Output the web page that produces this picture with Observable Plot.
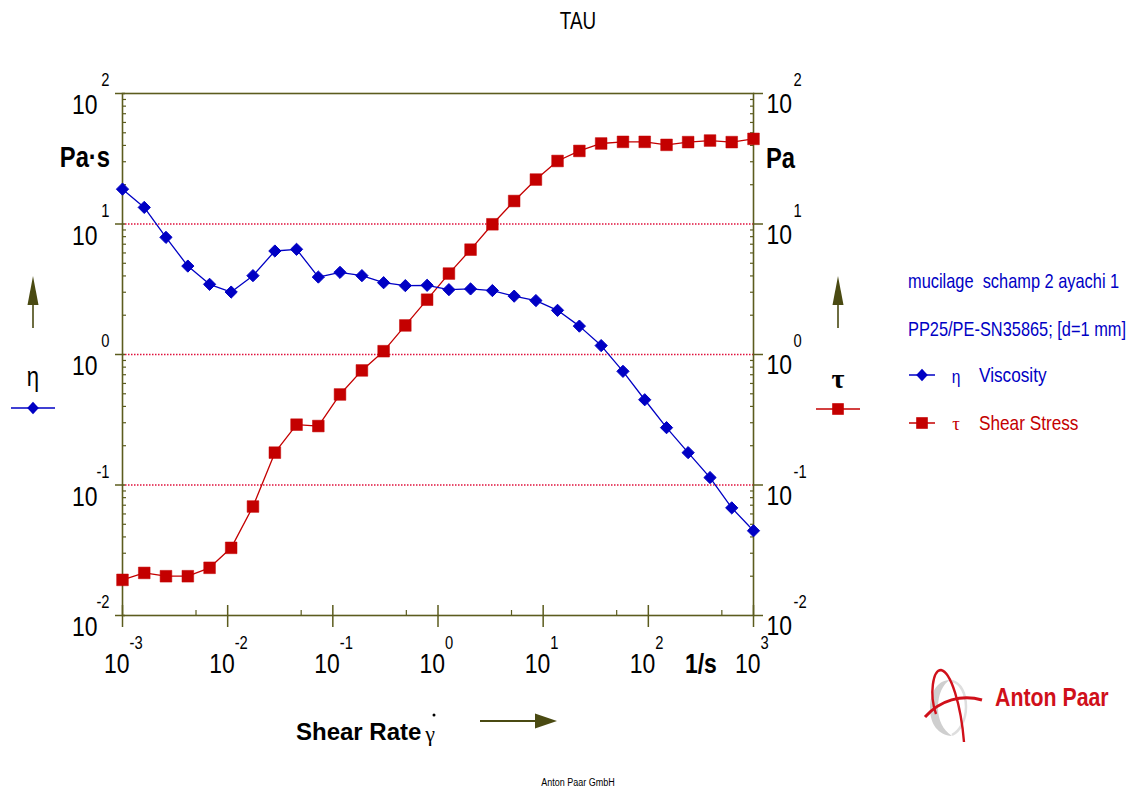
<!DOCTYPE html>
<html><head><meta charset="utf-8">
<script src="https://cdn.jsdelivr.net/npm/d3@7"></script>
<script src="https://cdn.jsdelivr.net/npm/@observablehq/plot@0.6"></script>
<style>
html,body{margin:0;padding:0;background:#fff;}
#wrap{position:relative;width:1132px;height:789px;overflow:hidden;background:#fff;}
#wrap svg{position:absolute;left:0;top:0;}
</style></head><body><div id="wrap"></div>
<script>
// ---- data ----
const shearRate = [0.001, 0.00161, 0.00259, 0.00418, 0.00673, 0.0108, 0.0174, 0.0281, 0.0452, 0.0728,
  0.117, 0.189, 0.304, 0.489, 0.788, 1.27, 2.04, 3.29, 5.30, 8.53,
  13.7, 22.1, 35.6, 57.4, 92.4, 149, 239, 386, 621, 1000];
const viscosity = [18.5, 13.4, 7.9, 4.76, 3.45, 3.01, 4.02, 6.21, 6.4, 3.92,
  4.26, 4.02, 3.55, 3.37, 3.39, 3.14, 3.18, 3.09, 2.80, 2.59,
  2.18, 1.65, 1.17, 0.743, 0.450, 0.275, 0.177, 0.114, 0.0668, 0.0446];
const shearStress = [0.01875, 0.0212, 0.0200, 0.0200, 0.0232, 0.033, 0.0684, 0.177, 0.290, 0.283,
  0.494, 0.755, 1.06, 1.67, 2.63, 4.17, 6.36, 9.95, 15.0, 21.9,
  30.4, 36.3, 41.4, 42.6, 42.6, 40.4, 42.4, 43.6, 42.4, 44.9];
const yDecades = [0.01, 0.1, 1, 10, 100];
const yExponents = ["-2", "-1", "0", "1", "2"];
const xDecades = [0.001, 0.01, 0.1, 1, 10, 100, 1000];
const xExponents = ["-3", "-2", "-1", "0", "1", "2", "3"];
const xMinor = [0.005, 0.05, 0.5, 5, 50, 500];
const gridValues = [0.1, 1, 10];
const titleText = "TAU";
const sampleLines = ["mucilage  schamp 2 ayachi 1", "PP25/PE-SN35865; [d=1 mm]"];
const seriesNames = ["Viscosity", "Shear Stress"];
const seriesSymbols = ["η", "τ"];

// ---- styles ----
const SANS = "'Liberation Sans',Arial,sans-serif";
const SERIF = "'Liberation Serif','Times New Roman',serif";
const NARROW_FACTOR = 0.82;
const OLIVE = "#5c5c1e";
const ARROW = "#4a4a12";
const BLUE = "#0000c4";
const RED = "#c40000";
const GRID = "#e0103c";

const yMinor = [];
for (const d of [0.01, 0.1, 1, 10]) for (let k = 2; k <= 9; k++) yMinor.push(+(d * k).toPrecision(3));

const rows = shearRate.map((x, i) => ({x, eta: viscosity[i], tau: shearStress[i]}));

const chart = Plot.plot({
  width: 1132, height: 789,
  marginLeft: 122, marginRight: 379, marginTop: 93, marginBottom: 174,
  x: {type: "log", domain: [0.001, 1000]},
  y: {type: "log", domain: [0.01, 100]},
  style: {fontFamily: SANS, background: "transparent", color: "#000"},
  marks: [
    Plot.ruleY(gridValues, {stroke: GRID, strokeDasharray: "1.5,1.5", strokeWidth: 1.4}),
    Plot.axisY({ticks: yDecades, anchor: "left", tickSize: 10, dx: 3, tickFormat: () => "", label: null, stroke: OLIVE, strokeWidth: 1.5}),
    Plot.axisY({ticks: yMinor, anchor: "left", tickSize: 4, dx: 4, tickFormat: () => "", label: null, stroke: OLIVE, strokeWidth: 1.2}),
    Plot.axisY({ticks: yDecades, anchor: "right", tickSize: 10, dx: -1, tickFormat: () => "", label: null, stroke: OLIVE, strokeWidth: 1.5}),
    Plot.axisY({ticks: yMinor, anchor: "right", tickSize: 4, dx: -4, tickFormat: () => "", label: null, stroke: OLIVE, strokeWidth: 1.2}),
    Plot.axisX({ticks: xDecades, anchor: "bottom", tickSize: 22, dy: -10, tickFormat: () => "", label: null, stroke: OLIVE, strokeWidth: 1.5}),
    Plot.axisX({ticks: xMinor, anchor: "bottom", tickSize: 5, dy: -5, tickFormat: () => "", label: null, stroke: OLIVE, strokeWidth: 1.2}),
    Plot.frame({stroke: OLIVE, strokeWidth: 1.6}),
    // tick labels: "10" with the exponent above it
    Plot.text(yDecades, {y: d => d, frameAnchor: "left", text: () => "10", textAnchor: "end", dx: -25, dy: 12, fontSize: 28, fill: "#000"}),
    Plot.text(yDecades, {y: d => d, frameAnchor: "left", text: (d, i) => yExponents[i], textAnchor: "end", dx: -13, dy: -13, fontSize: 18, fill: "#000"}),
    Plot.text(yDecades, {y: d => d, frameAnchor: "right", text: () => "10", textAnchor: "start", dx: 13, dy: 11, fontSize: 28, fill: "#000"}),
    Plot.text(yDecades, {y: d => d, frameAnchor: "right", text: (d, i) => yExponents[i], textAnchor: "start", dx: 40, dy: -13, fontSize: 18, fill: "#000"}),
    Plot.text(xDecades, {x: d => d, frameAnchor: "bottom", text: () => "10", textAnchor: "end", dx: 7, dy: 57, fontSize: 28, fill: "#000"}),
    Plot.text(xDecades, {x: d => d, frameAnchor: "bottom", text: (d, i) => xExponents[i], textAnchor: "start", dx: 7, dy: 33, fontSize: 18, fill: "#000"}),
    Plot.text([316], {x: d => d, frameAnchor: "bottom", text: () => "1/s", textAnchor: "middle", dy: 57, fontSize: 28, fontWeight: "bold", fill: "#000"}),
    // series
    Plot.line(rows, {x: "x", y: "tau", stroke: RED, strokeWidth: 1.3}),
    Plot.dot(rows, {x: "x", y: "tau", symbol: "square", r: 6.6, fill: RED, stroke: RED, strokeWidth: 0.5}),
    Plot.line(rows, {x: "x", y: "eta", stroke: BLUE, strokeWidth: 1.3}),
    Plot.dot(rows, {x: "x", y: "eta", symbol: "diamond2", r: 5.5, fill: BLUE, stroke: BLUE, strokeWidth: 1})
  ]
});
document.getElementById("wrap").appendChild(chart);

// ---- annotations overlay ----
const ov = d3.create("svg").attr("width", 1132).attr("height", 789)
  .style("pointer-events", "none").style("font-family", SANS);
const T = (x, y, s, o = {}) => ov.append("text").attr("x", x).attr("y", y).text(s)
  .attr("font-size", o.size || 20).attr("fill", o.fill || "#000")
  .attr("text-anchor", o.anchor || "start").attr("font-weight", o.weight || "normal")
  .attr("class", o.wide ? "wide" : null)
  .style("font-family", o.family || SANS).style("white-space", "pre");

T(578, 29, titleText, {size: 23, anchor: "middle"});
T(110, 167, "Pa·s", {size: 29, weight: "bold", anchor: "end"});
T(766, 168, "Pa", {size: 29, weight: "bold"});

function upArrow(cx) {
  ov.append("line").attr("x1", cx).attr("x2", cx).attr("y1", 300).attr("y2", 328).attr("stroke", ARROW).attr("stroke-width", 1.6);
  ov.append("path").attr("d", `M${cx},276 L${cx - 5.5},305 L${cx + 5.5},305 Z`).attr("fill", ARROW);
}
upArrow(33);
upArrow(838);

T(33, 386, seriesSymbols[0], {size: 27, anchor: "middle"});
T(838, 388, seriesSymbols[1], {size: 28, anchor: "middle", weight: "bold", family: SERIF, wide: true});

function legendMark(cx, cy, half, color, type) {
  ov.append("line").attr("x1", cx - half).attr("x2", cx + half).attr("y1", cy).attr("y2", cy).attr("stroke", color).attr("stroke-width", 1.5);
  if (type === "diamond") ov.append("path").attr("d", `M${cx},${cy - 6.2} L${cx + 5.8},${cy} L${cx},${cy + 6.2} L${cx - 5.8},${cy} Z`).attr("fill", color);
  else ov.append("rect").attr("x", cx - 5.8).attr("y", cy - 5.8).attr("width", 11.6).attr("height", 11.6).attr("fill", color);
}
legendMark(33, 408, 22, BLUE, "diamond");
legendMark(838, 409, 22, RED, "square");

T(908, 288, sampleLines[0], {size: 20, fill: BLUE});
T(908, 336, sampleLines[1], {size: 20, fill: BLUE});
legendMark(922, 375, 13, BLUE, "diamond");
legendMark(922, 423, 13, RED, "square");
T(956, 383, seriesSymbols[0], {size: 19, fill: BLUE, anchor: "middle"});
T(956, 430, seriesSymbols[1], {size: 19, fill: RED, anchor: "middle", family: SERIF, wide: true});
T(979, 382, seriesNames[0], {size: 21, fill: BLUE});
T(979, 430, seriesNames[1], {size: 21, fill: RED});

// x-axis label
T(296, 740, "Shear Rate", {size: 24, weight: "bold", wide: true});
T(430, 741, "γ", {size: 22, family: SERIF, anchor: "middle", wide: true});
ov.append("circle").attr("cx", 434).attr("cy", 715).attr("r", 1.5).attr("fill", "#000");
ov.append("line").attr("x1", 480).attr("x2", 538).attr("y1", 721).attr("y2", 721).attr("stroke", ARROW).attr("stroke-width", 1.8);
ov.append("path").attr("d", "M557,721 L535,713.5 L535,728.5 Z").attr("fill", ARROW);

// footer
T(578, 786, "Anton Paar GmbH", {size: 11, anchor: "middle"});

// logo
const lg = ov.append("g");
lg.append("path").attr("d", "M950,680 C936,680 930,695 930,708 C930,724 938,735 952,736 C943,730 938,720 938,708 C938,694 943,684 950,680 Z").attr("fill", "#cfcfcf");
lg.append("path").attr("d", "M952,681 C961,683 966,694 966,707 C966,720 960,731 952,735").attr("fill", "none").attr("stroke", "#dedede").attr("stroke-width", 2.5);
lg.append("path").attr("d", "M936,714 C929,694 933,670 941,670 C951,672 961,705 964,742").attr("fill", "none").attr("stroke", "#d0101a").attr("stroke-width", 2.4);
lg.append("path").attr("d", "M925,717 C940,700 962,694 982,700").attr("fill", "none").attr("stroke", "#d0101a").attr("stroke-width", 3);
T(995, 706, "Anton Paar", {size: 26, weight: "bold", fill: "#d0101a"});

document.getElementById("wrap").appendChild(ov.node());

// condense texts horizontally (the reference uses a narrow sans face)
function narrow(svgNode) {
  d3.select(svgNode).selectAll("text").each(function () {
    if (this.classList.contains("wide")) return;
    const X = +this.getAttribute("x") || 0;
    const old = this.getAttribute("transform") || "";
    this.setAttribute("transform", `${old} translate(${X},0) scale(${NARROW_FACTOR},1) translate(${-X},0)`);
  });
}
narrow(chart);
narrow(ov.node());
</script></body></html>
